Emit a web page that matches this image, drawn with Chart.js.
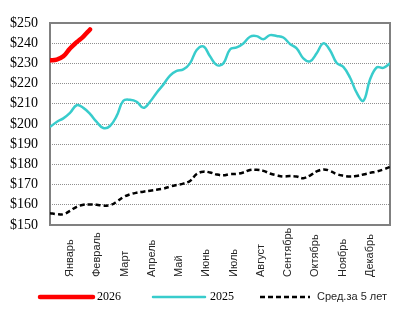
<!DOCTYPE html>
<html>
<head>
<meta charset="utf-8">
<script src="https://cdn.jsdelivr.net/npm/chart.js@4/dist/chart.umd.min.js"></script>
<style>
  html, body { margin: 0; padding: 0; background: #fff; }
  #wrap { width: 411px; height: 323px; position: relative; }
</style>
</head>
<body>
<div id="wrap"><canvas id="c"></canvas></div>
<script>
// Month names shown under the axis
const months = ['Январь', 'Февраль', 'Март', 'Апрель', 'Май', 'Июнь',
                'Июль', 'Август', 'Сентябрь', 'Октябрь', 'Ноябрь', 'Декабрь'];

// Y axis tick values (dollars)
const yTickValues = [150, 160, 170, 180, 190, 200, 210, 220, 230, 240, 250];

// Weekly prices, week index 0..51
const series2026 = [231.5, 231.9, 233.5, 237.4, 240.5, 243.3, 246.8];

const series2025 = [
  198.5, 201.0, 202.8, 205.5, 209.3, 208.0, 205.0, 201.0, 198.0, 199.0,
  204.0, 211.5, 212.0, 211.0, 208.0, 211.0, 215.5, 219.5, 224.0, 226.3,
  227.0, 230.0, 236.6, 238.4, 233.5, 229.2, 230.0, 236.9, 237.9, 239.9,
  243.2, 243.5, 242.0, 244.0, 243.6, 242.8, 239.6, 237.4, 232.5, 231.0,
  235.0, 239.9, 236.5, 230.2, 228.3, 223.0, 215.5, 211.5, 222.0, 228.0,
  227.8, 230.0
];

const seriesAvg5 = [
  155.8, 155.4, 155.3, 157.0, 159.0, 160.0, 160.2, 160.0, 159.6, 159.8,
  161.5, 163.8, 165.2, 166.0, 166.5, 167.0, 167.5, 168.0, 169.0, 169.8,
  170.5, 171.8, 175.2, 176.4, 176.0, 175.0, 174.6, 175.2, 175.3, 176.0,
  177.2, 177.3, 176.8, 175.5, 174.6, 174.0, 174.2, 174.0, 173.2, 174.5,
  176.5, 177.5, 176.8, 175.2, 174.4, 174.0, 174.3, 175.0, 175.8, 176.5,
  177.5, 178.8
];

const seriesLabels = ['2026', '2025', 'Сред.за 5 лет'];

const toPoints = arr => arr.map((v, i) => ({ x: i, y: v }));

// Outer frame of the plot area
const framePlugin = {
  id: 'frame',
  beforeDatasetsDraw(chart) {
    const { ctx, chartArea: a } = chart;
    ctx.save();
    ctx.strokeStyle = '#808080';
    ctx.lineWidth = 2;
    ctx.strokeRect(a.left, a.top, a.right - a.left, a.bottom - a.top);
    ctx.restore();
  }
};

// Month labels, rotated, aligned at their start
const monthLabelPlugin = {
  id: 'monthLabels',
  afterDraw(chart) {
    const { ctx } = chart;
    const xs = chart.scales.x;
    ctx.save();
    ctx.font = '11px "Liberation Sans", Arial, sans-serif';
    ctx.fillStyle = '#262626';
    ctx.textAlign = 'left';
    ctx.textBaseline = 'middle';
    months.forEach((m, k) => {
      const v = 3 + k * 45 / 11;
      const px = xs.getPixelForValue(v);
      ctx.save();
      ctx.translate(px, 277);
      ctx.rotate(-Math.PI / 2);
      ctx.fillText(m, 0, 0);
      ctx.restore();
    });
    ctx.restore();
  }
};

// Legend row at the bottom
const legendPlugin = {
  id: 'bottomLegend',
  afterDraw(chart) {
    const { ctx } = chart;
    const slots = [
      { x0: 40, x1: 93, tx: 97 },
      { x0: 153, x1: 205, tx: 210 },
      { x0: 260, x1: 310, tx: 317 }
    ];
    const y = 297;
    chart.data.datasets.forEach((ds, i) => {
      const s = slots[i];
      ctx.save();
      ctx.strokeStyle = ds.borderColor;
      ctx.lineWidth = ds.borderWidth;
      ctx.setLineDash(ds.borderDash || []);
      ctx.lineCap = ds.borderDash ? 'butt' : 'round';
      ctx.beginPath();
      ctx.moveTo(s.x0, y);
      ctx.lineTo(s.x1, y);
      ctx.stroke();
      ctx.setLineDash([]);
      ctx.font = ds.legendFont;
      ctx.fillStyle = ds.legendColor;
      ctx.textAlign = 'left';
      ctx.textBaseline = 'middle';
      ctx.fillText(ds.label, s.tx, y);
      ctx.restore();
    });
  }
};

new Chart(document.getElementById('c'), {
  type: 'line',
  data: {
    datasets: [
      {
        label: seriesLabels[0],
        data: toPoints(series2026),
        borderColor: '#ff0000',
        borderWidth: 4.5,
        borderCapStyle: 'round',
        tension: 0.4,
        pointRadius: 0,
        legendFont: '12px "Liberation Serif", "Times New Roman", serif',
        legendColor: '#000'
      },
      {
        label: seriesLabels[1],
        data: toPoints(series2025),
        borderColor: '#38cccc',
        borderWidth: 2.5,
        tension: 0.4,
        pointRadius: 0,
        legendFont: '12px "Liberation Serif", "Times New Roman", serif',
        legendColor: '#000'
      },
      {
        label: seriesLabels[2],
        data: toPoints(seriesAvg5),
        borderColor: '#000000',
        borderWidth: 2.5,
        borderDash: [5, 3],
        tension: 0.4,
        pointRadius: 0,
        legendFont: '11px "Liberation Sans", Arial, sans-serif',
        legendColor: '#262626'
      }
    ]
  },
  options: {
    responsive: true,
    maintainAspectRatio: false,
    animation: false,
    layout: { padding: { left: 6, right: 21, top: 23, bottom: 98 } },
    plugins: { legend: { display: false }, tooltip: { enabled: false } },
    scales: {
      x: {
        type: 'linear',
        min: 0,
        max: 51,
        ticks: { display: false },
        grid: { display: false, drawTicks: false },
        border: { display: false },
        afterFit: s => { s.height = 0; }
      },
      y: {
        min: 150,
        max: 250,
        afterBuildTicks: s => { s.ticks = yTickValues.map(v => ({ value: v })); },
        ticks: {
          callback: v => '$' + v,
          font: { family: '"Liberation Serif", "Times New Roman", serif', size: 14 },
          color: '#000',
          padding: 12
        },
        grid: { color: '#8f8f8f', lineWidth: 1, drawTicks: false },
        border: { display: false, dash: [1, 1] },
        afterFit: s => { s.width = 44; }
      }
    }
  },
  plugins: [framePlugin, monthLabelPlugin, legendPlugin]
});
</script>
</body>
</html>
